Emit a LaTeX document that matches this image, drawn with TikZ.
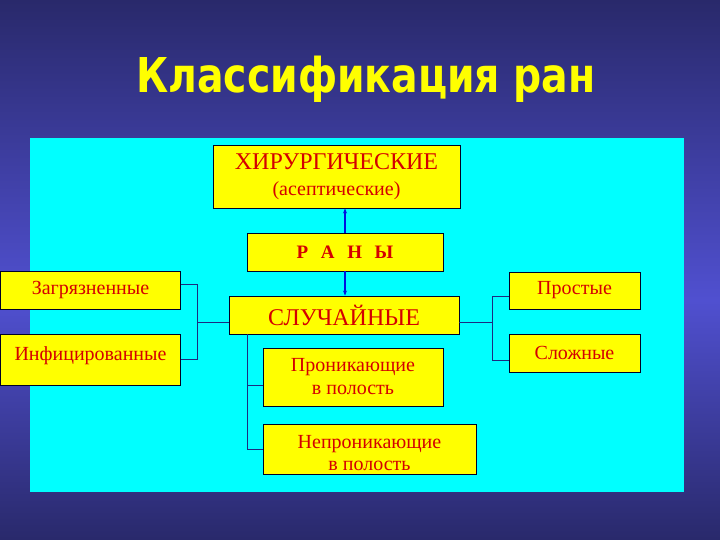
\documentclass[tikz,border=0pt]{standalone}
\usepackage{fontspec}
\setmainfont{Liberation Serif}
\newfontfamily\titlefont{DejaVu Sans}
\usetikzlibrary{arrows.meta,calc}
\definecolor{bgdark}{HTML}{29296B}
\definecolor{bgmid}{HTML}{5050D0}
\definecolor{panel}{HTML}{00FFFF}
\definecolor{boxfill}{HTML}{FFFF00}
\definecolor{boxtext}{HTML}{D40000}
\definecolor{linkcol}{HTML}{1C2A80}
\definecolor{arrcol}{HTML}{0010E0}
\definecolor{titlecol}{HTML}{FFFF00}
\newcommand{\titletext}{\scalebox{0.82}[1]{\titlefont\bfseries\fontsize{48}{56}\selectfont Классификация ран}}
\tikzset{
  wbox/.style={draw=black!85!blue, line width=0.9pt, fill=boxfill, text=boxtext,
    inner sep=0pt, align=center, font=\fontsize{20}{24}\selectfont},
  link/.style={draw=linkcol, line width=0.9pt},
  upar/.style={draw=arrcol, line width=1.6pt, -{Stealth[length=5pt,width=4pt]}},
  titlestyle/.style={anchor=base, inner sep=0pt},
}
\begin{document}
\begin{tikzpicture}[x=1pt,y=-1pt]
\useasboundingbox (0,0) rectangle (720,540);
% background gradient
\shade[top color=bgdark, bottom color=bgmid] (0,0) rectangle (720,300);
\shade[top color=bgmid, bottom color=bgdark] (0,300) rectangle (720,540);
% panel
\fill[panel] (30,138) rectangle (684,492);
% title
\node[titlestyle, text=titlecol] (title) at (366,93) {\titletext};
% boxes
\node[wbox, minimum width=247, minimum height=63] (hir) at (336.5,176.5)
  {\fontsize{24}{28}\selectfont ХИРУРГИЧЕСКИЕ\\[2pt]\fontsize{20}{22}\selectfont (асептические)};
\node[wbox, minimum width=196, minimum height=38, font=\bfseries\fontsize{19}{22}\selectfont] (rany) at (345,252) {Р\ \ \,А\ \ \,Н\ \ \,Ы};
\node[wbox, minimum width=180, minimum height=38] (zag) at (90.5,290) {Загрязненные};
\node[wbox, minimum width=180, minimum height=51, text depth=12pt] (inf) at (90.5,359.5) {Инфицированные};
\node[wbox, minimum width=230, minimum height=38, font=\fontsize{24}{26}\selectfont] (slu) at (344,315) {СЛУЧАЙНЫЕ};
\node[wbox, minimum width=180, minimum height=58, font=\fontsize{20}{23}\selectfont] (pron) at (353,377) {Проникающие\\в полость};
\node[wbox, minimum width=213, minimum height=50,
  label={[text=boxtext, align=center, inner sep=0pt, font=\fontsize{20}{22}\selectfont, yshift=-4pt]center:Непроникающие\\в полость}] (nepron) at (369.5,449) {};
\node[wbox, minimum width=131, minimum height=37] (prost) at (574.5,290.5) {Простые};
\node[wbox, minimum width=131, minimum height=38] (slozh) at (574.5,353) {Сложные};
% helper coordinates for bracket lines
\coordinate (lbx) at (197,0);
\coordinate (rbx) at (492,0);
\coordinate (dbx) at (247,0);
\coordinate (zagp) at ($(zag.east)+(0,-6)$);
\coordinate (sluw) at ($(slu.west)+(0,7)$);
\coordinate (slue) at ($(slu.east)+(0,7)$);
\coordinate (prostp) at ($(prost.west)+(0,5.5)$);
\coordinate (slozhp) at ($(slozh.west)+(0,7)$);
\coordinate (pronp) at ($(pron.west)+(0,8)$);
% connectors
\draw[link] (zagp) -| (lbx |- inf.east) -- (inf.east);
\draw[link] (sluw) -- (sluw -| lbx);
\draw[link] (prostp) -| (rbx |- slozhp) -- (slozhp);
\draw[link] (slue) -- (slue -| rbx);
\draw[link] (slu.south -| dbx) |- (nepron.west);
\draw[link] (pronp) -- (pronp -| dbx);
\draw[upar] (rany.north) -- (rany.north |- hir.south);
\draw[upar] (rany.south) -- (rany.south |- slu.north);
\end{tikzpicture}
\end{document}
